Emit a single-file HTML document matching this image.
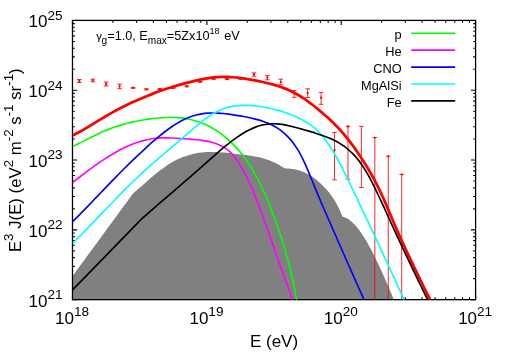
<!DOCTYPE html>
<html><head><meta charset="utf-8"><title>plot</title>
<style>
html,body{margin:0;padding:0;background:#fff;}
svg{display:block;will-change:transform;}
text{font-family:"Liberation Sans",sans-serif;fill:#000;}
</style></head><body>
<svg width="506" height="354" viewBox="0 0 506 354">
<g fill="none" stroke="#000" stroke-width="1.15">
<path d="M72.50 299.60V295.00M72.50 20.45V25.05M112.94 299.60V297.30M112.94 20.45V22.75M136.60 299.60V297.30M136.60 20.45V22.75M153.39 299.60V297.30M153.39 20.45V22.75M166.41 299.60V297.30M166.41 20.45V22.75M177.04 299.60V297.30M177.04 20.45V22.75M186.04 299.60V297.30M186.04 20.45V22.75M193.83 299.60V297.30M193.83 20.45V22.75M200.70 299.60V297.30M200.70 20.45V22.75M206.85 299.60V295.00M206.85 20.45V25.05M247.29 299.60V297.30M247.29 20.45V22.75M270.95 299.60V297.30M270.95 20.45V22.75M287.74 299.60V297.30M287.74 20.45V22.75M300.76 299.60V297.30M300.76 20.45V22.75M311.39 299.60V297.30M311.39 20.45V22.75M320.39 299.60V297.30M320.39 20.45V22.75M328.18 299.60V297.30M328.18 20.45V22.75M335.05 299.60V297.30M335.05 20.45V22.75M341.20 299.60V295.00M341.20 20.45V25.05M381.64 299.60V297.30M381.64 20.45V22.75M405.30 299.60V297.30M405.30 20.45V22.75M422.09 299.60V297.30M422.09 20.45V22.75M435.11 299.60V297.30M435.11 20.45V22.75M445.74 299.60V297.30M445.74 20.45V22.75M454.74 299.60V297.30M454.74 20.45V22.75M462.53 299.60V297.30M462.53 20.45V22.75M469.40 299.60V297.30M469.40 20.45V22.75M475.55 299.60V295.00M475.55 20.45V25.05M72.50 299.60H77.10M475.55 299.60H470.95M72.50 278.59H74.80M475.55 278.59H473.25M72.50 266.30H74.80M475.55 266.30H473.25M72.50 257.58H74.80M475.55 257.58H473.25M72.50 250.82H74.80M475.55 250.82H473.25M72.50 245.29H74.80M475.55 245.29H473.25M72.50 240.62H74.80M475.55 240.62H473.25M72.50 236.58H74.80M475.55 236.58H473.25M72.50 233.01H74.80M475.55 233.01H473.25M72.50 229.81H77.10M475.55 229.81H470.95M72.50 208.80H74.80M475.55 208.80H473.25M72.50 196.52H74.80M475.55 196.52H473.25M72.50 187.80H74.80M475.55 187.80H473.25M72.50 181.03H74.80M475.55 181.03H473.25M72.50 175.51H74.80M475.55 175.51H473.25M72.50 170.84H74.80M475.55 170.84H473.25M72.50 166.79H74.80M475.55 166.79H473.25M72.50 163.22H74.80M475.55 163.22H473.25M72.50 160.03H77.10M475.55 160.03H470.95M72.50 139.02H74.80M475.55 139.02H473.25M72.50 126.73H74.80M475.55 126.73H473.25M72.50 118.01H74.80M475.55 118.01H473.25M72.50 111.25H74.80M475.55 111.25H473.25M72.50 105.72H74.80M475.55 105.72H473.25M72.50 101.05H74.80M475.55 101.05H473.25M72.50 97.00H74.80M475.55 97.00H473.25M72.50 93.43H74.80M475.55 93.43H473.25M72.50 90.24H77.10M475.55 90.24H470.95M72.50 69.23H74.80M475.55 69.23H473.25M72.50 56.94H74.80M475.55 56.94H473.25M72.50 48.22H74.80M475.55 48.22H473.25M72.50 41.46H74.80M475.55 41.46H473.25M72.50 35.93H74.80M475.55 35.93H473.25M72.50 31.26H74.80M475.55 31.26H473.25M72.50 27.21H74.80M475.55 27.21H473.25M72.50 23.64H74.80M475.55 23.64H473.25M72.50 20.45H77.10M475.55 20.45H470.95"/>
<rect x="72.50" y="20.45" width="403.05" height="279.15"/>
</g>
<path d="M72.50 299.60 L72.50 276.30 C82.55 262.55 122.75 207.55 132.80 193.80 C133.90 192.83 137.19 189.91 139.38 187.97 C141.57 186.03 143.78 184.05 145.97 182.14 C148.16 180.23 150.34 178.32 152.50 176.51 C154.66 174.70 156.81 172.94 158.92 171.30 C161.03 169.66 163.12 168.10 165.17 166.68 C167.22 165.26 169.25 163.98 171.24 162.80 C173.23 161.62 175.18 160.57 177.11 159.62 C179.04 158.67 180.94 157.83 182.81 157.08 C184.69 156.33 186.54 155.69 188.36 155.13 C190.19 154.57 191.98 154.10 193.76 153.70 C195.54 153.30 197.30 152.99 199.04 152.74 C200.78 152.49 202.50 152.32 204.21 152.19 C205.92 152.06 207.61 151.99 209.29 151.96 C210.97 151.93 212.64 151.95 214.30 151.99 C215.96 152.03 217.61 152.13 219.26 152.23 C220.91 152.33 222.55 152.46 224.18 152.60 C225.81 152.74 227.44 152.91 229.07 153.08 C230.70 153.25 232.33 153.45 233.95 153.64 C235.57 153.83 237.19 154.03 238.81 154.22 C240.43 154.41 242.06 154.61 243.68 154.81 C245.30 155.01 246.92 155.21 248.53 155.43 C250.14 155.66 251.76 155.89 253.36 156.16 C254.96 156.43 256.56 156.72 258.14 157.06 C259.72 157.40 261.30 157.78 262.85 158.22 C264.41 158.66 265.94 159.15 267.47 159.70 C269.00 160.25 270.51 160.84 272.01 161.49 C273.51 162.14 275.00 162.83 276.48 163.57 C277.96 164.31 279.42 165.10 280.87 165.92 C282.32 166.74 284.48 168.07 285.20 168.50 C285.97 168.54 288.29 168.57 289.81 168.71 C291.33 168.85 292.83 169.05 294.31 169.33 C295.79 169.61 297.26 169.95 298.70 170.37 C300.14 170.79 301.57 171.28 302.97 171.84 C304.38 172.40 305.76 173.03 307.13 173.73 C308.50 174.43 309.84 175.22 311.17 176.06 C312.50 176.90 313.81 177.81 315.10 178.79 C316.39 179.77 317.67 180.81 318.93 181.92 C320.19 183.03 321.43 184.20 322.66 185.43 C323.89 186.66 325.10 187.94 326.29 189.29 C327.48 190.64 328.66 192.02 329.82 193.51 C330.98 195.00 332.12 196.54 333.23 198.21 C334.34 199.88 335.43 201.63 336.47 203.53 C337.52 205.43 338.53 207.44 339.50 209.62 C340.47 211.80 341.83 215.45 342.30 216.62 C343.04 216.89 345.32 217.58 346.76 218.33 C348.20 219.09 349.59 220.04 350.94 221.13 C352.29 222.22 353.60 223.48 354.87 224.84 C356.14 226.20 357.37 227.72 358.59 229.30 C359.81 230.88 361.00 232.59 362.17 234.34 C363.34 236.09 364.49 237.93 365.62 239.82 C366.75 241.71 367.87 243.66 368.98 245.66 C370.09 247.66 371.18 249.72 372.26 251.81 C373.34 253.90 374.41 256.04 375.47 258.21 C376.53 260.38 377.58 262.58 378.63 264.81 C379.68 267.04 380.71 269.29 381.74 271.56 C382.77 273.83 383.80 276.13 384.82 278.44 C385.84 280.75 386.86 283.09 387.87 285.44 C388.88 287.79 389.89 290.15 390.90 292.53 C391.90 294.91 393.40 298.50 393.90 299.70 L393.90 299.60 Z" fill="#808080"/>
<rect x="72.50" y="20.45" width="403.05" height="279.15" fill="none" stroke="#000" stroke-width="1.15"/>
<path d="M79.30 79.50V82.50M77.00 79.50H81.60M77.00 82.50H81.60M92.73 79.20V81.80M90.43 79.20H95.03M90.43 81.80H95.03M106.17 82.00V86.00M103.87 82.00H108.47M103.87 86.00H108.47M119.60 84.20V88.70M117.30 84.20H121.90M117.30 88.70H121.90M133.03 87.30V88.30M130.73 87.30H135.33M130.73 88.30H135.33M146.46 88.80V89.80M144.16 88.80H148.76M144.16 89.80H148.76M159.90 88.50V89.50M157.60 88.50H162.20M157.60 89.50H162.20M173.33 87.40V88.40M171.03 87.40H175.63M171.03 88.40H175.63M186.76 85.80V86.80M184.46 85.80H189.06M184.46 86.80H189.06M200.20 81.30V82.30M197.90 81.30H202.50M197.90 82.30H202.50M213.63 78.30V79.30M211.33 78.30H215.93M211.33 79.30H215.93M227.06 78.40V79.60M224.76 78.40H229.36M224.76 79.60H229.36M240.50 78.00V79.20M238.20 78.00H242.80M238.20 79.20H242.80M253.93 72.90V76.20M251.63 72.90H256.23M251.63 76.20H256.23M267.36 75.60V79.80M265.06 75.60H269.66M265.06 79.80H269.66M280.80 79.20V84.80M278.50 79.20H283.10M278.50 84.80H283.10M294.23 90.40V97.30M291.93 90.40H296.53M291.93 97.30H296.53M307.66 88.80V97.50M305.36 88.80H309.96M305.36 97.50H309.96M321.09 92.40V104.30M318.79 92.40H323.39M318.79 104.30H323.39M334.53 132.50V179.80M332.23 132.50H336.83M332.23 179.80H336.83M347.96 126.30V179.20M345.66 126.30H350.26M345.66 179.20H350.26M361.39 126.30V187.50M359.09 126.30H363.69M359.09 187.50H363.69M374.83 137.50V299.50M372.53 137.50H377.13M388.26 156.20V299.50M385.96 156.20H390.56M401.69 174.40V299.50M399.39 174.40H403.99" fill="none" stroke="#ff0000" stroke-width="0.85"/>
<g fill="#ff0000"><circle cx="79.30" cy="81.00" r="1.15"/><circle cx="92.73" cy="80.50" r="1.15"/><circle cx="106.17" cy="84.00" r="1.15"/><circle cx="119.60" cy="86.40" r="1.15"/><circle cx="133.03" cy="87.80" r="1.15"/><circle cx="146.46" cy="89.30" r="1.15"/><circle cx="159.90" cy="89.00" r="1.15"/><circle cx="173.33" cy="87.90" r="1.15"/><circle cx="186.76" cy="86.30" r="1.15"/><circle cx="200.20" cy="81.80" r="1.15"/><circle cx="213.63" cy="78.80" r="1.15"/><circle cx="227.06" cy="79.00" r="1.15"/><circle cx="240.50" cy="78.60" r="1.15"/><circle cx="253.93" cy="74.50" r="1.15"/><circle cx="267.36" cy="77.70" r="1.15"/><circle cx="280.80" cy="81.90" r="1.15"/><circle cx="294.23" cy="93.70" r="1.15"/><circle cx="307.66" cy="93.10" r="1.15"/><circle cx="321.09" cy="97.70" r="1.15"/><circle cx="334.53" cy="150.20" r="1.15"/><circle cx="347.96" cy="126.60" r="1.15"/><circle cx="374.83" cy="137.70" r="1.05"/><circle cx="388.26" cy="156.40" r="1.05"/><circle cx="401.69" cy="174.60" r="1.05"/></g>
<clipPath id="c"><rect x="72.5" y="19.4" width="403.1" height="280.7"/></clipPath>
<g clip-path="url(#c)">
<path d="M72.50 135.55 C73.63 134.97 76.99 133.30 79.26 132.05 C81.53 130.81 83.83 129.45 86.14 128.08 C88.45 126.72 90.78 125.28 93.10 123.86 C95.42 122.44 97.75 120.99 100.06 119.59 C102.37 118.19 104.68 116.81 106.98 115.48 C109.28 114.16 111.57 112.88 113.84 111.64 C116.11 110.40 118.37 109.22 120.62 108.06 C122.87 106.91 125.11 105.79 127.34 104.71 C129.57 103.63 131.79 102.59 134.00 101.58 C136.21 100.57 138.41 99.60 140.60 98.65 C142.79 97.70 144.98 96.79 147.16 95.90 C149.34 95.02 151.51 94.16 153.67 93.34 C155.83 92.52 157.98 91.72 160.13 90.96 C162.28 90.20 164.41 89.47 166.54 88.76 C168.67 88.06 170.79 87.38 172.91 86.73 C175.03 86.08 177.13 85.46 179.23 84.86 C181.33 84.26 183.42 83.70 185.51 83.15 C187.60 82.61 189.68 82.09 191.75 81.59 C193.82 81.09 195.89 80.62 197.95 80.17 C200.01 79.72 202.06 79.30 204.10 78.92 C206.14 78.54 208.18 78.20 210.20 77.91 C212.22 77.62 214.22 77.38 216.21 77.20 C218.20 77.02 220.18 76.90 222.13 76.84 C224.08 76.78 226.02 76.80 227.94 76.87 C229.86 76.94 231.76 77.08 233.66 77.25 C235.56 77.42 237.43 77.64 239.31 77.88 C241.19 78.12 243.06 78.41 244.92 78.70 C246.78 78.99 248.64 79.31 250.49 79.63 C252.34 79.95 254.20 80.28 256.04 80.64 C257.88 81.00 259.73 81.37 261.56 81.76 C263.39 82.16 265.23 82.57 267.05 83.01 C268.87 83.45 270.69 83.92 272.49 84.42 C274.30 84.92 276.09 85.46 277.88 86.04 C279.67 86.62 281.45 87.22 283.21 87.88 C284.97 88.54 286.72 89.23 288.46 89.99 C290.20 90.75 291.92 91.55 293.63 92.42 C295.34 93.29 297.03 94.22 298.71 95.21 C300.39 96.20 302.05 97.26 303.69 98.36 C305.33 99.46 306.96 100.62 308.58 101.81 C310.20 103.00 311.81 104.25 313.41 105.52 C315.01 106.79 316.60 108.10 318.19 109.42 C319.78 110.74 321.36 112.08 322.93 113.44 C324.50 114.80 326.08 116.18 327.64 117.59 C329.20 119.00 330.76 120.44 332.30 121.92 C333.84 123.40 335.38 124.92 336.90 126.49 C338.42 128.06 339.93 129.67 341.42 131.35 C342.91 133.03 344.39 134.77 345.85 136.55 C347.31 138.34 348.75 140.18 350.19 142.06 C351.62 143.94 353.05 145.89 354.46 147.86 C355.87 149.84 357.27 151.86 358.66 153.91 C360.05 155.96 361.43 158.05 362.80 160.18 C364.17 162.31 365.53 164.47 366.88 166.68 C368.23 168.89 369.56 171.15 370.88 173.46 C372.20 175.78 373.51 178.14 374.80 180.57 C376.09 183.00 377.37 185.49 378.62 188.05 C379.87 190.61 381.10 193.26 382.32 195.95 C383.54 198.64 384.74 201.40 385.94 204.17 C387.14 206.94 388.32 209.77 389.51 212.58 C390.70 215.39 391.88 218.23 393.07 221.03 C394.26 223.83 395.45 226.63 396.65 229.39 C397.85 232.15 399.06 234.87 400.28 237.57 C401.50 240.27 402.72 242.94 403.95 245.60 C405.18 248.26 406.41 250.88 407.65 253.51 C408.89 256.13 410.13 258.74 411.37 261.35 C412.61 263.96 413.86 266.56 415.10 269.16 C416.35 271.76 417.59 274.36 418.84 276.94 C420.09 279.52 421.34 282.10 422.60 284.65 C423.86 287.20 425.11 289.73 426.38 292.24 C427.65 294.75 429.57 298.46 430.21 299.70" fill="none" stroke="#ff0000" stroke-width="2.75" stroke-linejoin="round"/>
<path d="M72.50 146.50 C73.53 146.01 76.62 144.60 78.69 143.59 C80.76 142.58 82.85 141.51 84.94 140.46 C87.03 139.41 89.12 138.33 91.21 137.28 C93.29 136.23 95.38 135.17 97.45 134.18 C99.52 133.19 101.58 132.23 103.62 131.34 C105.66 130.45 107.69 129.63 109.70 128.86 C111.71 128.09 113.70 127.38 115.68 126.71 C117.66 126.04 119.63 125.44 121.59 124.87 C123.55 124.30 125.48 123.77 127.42 123.28 C129.35 122.79 131.28 122.34 133.20 121.91 C135.12 121.48 137.03 121.08 138.93 120.71 C140.83 120.34 142.73 120.01 144.62 119.70 C146.51 119.39 148.38 119.12 150.25 118.87 C152.12 118.62 153.99 118.41 155.84 118.22 C157.69 118.03 159.53 117.88 161.37 117.76 C163.21 117.64 165.03 117.54 166.85 117.49 C168.67 117.44 170.47 117.42 172.27 117.45 C174.07 117.48 175.86 117.55 177.63 117.67 C179.40 117.79 181.16 117.96 182.90 118.18 C184.64 118.40 186.38 118.68 188.09 119.01 C189.81 119.34 191.50 119.73 193.19 120.18 C194.88 120.63 196.55 121.13 198.20 121.69 C199.85 122.25 201.49 122.87 203.11 123.54 C204.73 124.22 206.34 124.95 207.93 125.74 C209.52 126.53 211.10 127.37 212.66 128.28 C214.22 129.19 215.77 130.16 217.30 131.18 C218.83 132.20 220.34 133.28 221.84 134.42 C223.34 135.56 224.82 136.75 226.29 138.00 C227.76 139.25 229.21 140.56 230.65 141.93 C232.09 143.30 233.51 144.71 234.92 146.19 C236.33 147.67 237.72 149.21 239.10 150.81 C240.47 152.41 241.83 154.07 243.17 155.80 C244.51 157.53 245.83 159.34 247.13 161.21 C248.43 163.09 249.72 165.03 250.98 167.05 C252.24 169.08 253.48 171.18 254.70 173.36 C255.92 175.54 257.12 177.80 258.30 180.11 C259.48 182.43 260.65 184.81 261.80 187.25 C262.95 189.69 264.08 192.20 265.20 194.75 C266.32 197.30 267.43 199.91 268.52 202.56 C269.61 205.21 270.69 207.90 271.76 210.64 C272.83 213.38 273.89 216.16 274.94 219.00 C275.99 221.84 277.02 224.72 278.03 227.67 C279.04 230.61 280.04 233.61 281.02 236.67 C282.00 239.73 282.97 242.85 283.92 246.04 C284.87 249.23 285.81 252.48 286.72 255.81 C287.63 259.14 288.53 262.54 289.40 266.02 C290.27 269.50 291.12 273.05 291.94 276.70 C292.76 280.35 293.57 284.08 294.35 287.91 C295.13 291.74 296.23 297.74 296.60 299.70" fill="none" stroke="#00ff00" stroke-width="1.65" stroke-linejoin="round"/>
<path d="M72.50 182.65 C73.59 181.79 76.85 179.19 79.01 177.51 C81.17 175.83 83.34 174.17 85.48 172.55 C87.62 170.93 89.76 169.35 91.88 167.81 C94.00 166.27 96.11 164.78 98.21 163.33 C100.31 161.88 102.40 160.48 104.47 159.13 C106.54 157.78 108.61 156.48 110.65 155.24 C112.69 154.00 114.72 152.82 116.73 151.70 C118.74 150.58 120.74 149.52 122.72 148.53 C124.70 147.54 126.65 146.62 128.59 145.77 C130.53 144.92 132.45 144.14 134.35 143.44 C136.25 142.74 138.13 142.11 139.99 141.55 C141.85 140.99 143.70 140.51 145.52 140.08 C147.34 139.66 149.15 139.30 150.94 139.00 C152.73 138.70 154.51 138.47 156.27 138.29 C158.03 138.11 159.77 137.99 161.50 137.91 C163.23 137.83 164.95 137.81 166.66 137.82 C168.37 137.83 170.07 137.89 171.76 137.96 C173.45 138.03 175.14 138.13 176.82 138.24 C178.50 138.35 180.18 138.48 181.86 138.60 C183.54 138.72 185.22 138.84 186.90 138.96 C188.58 139.08 190.25 139.19 191.93 139.32 C193.61 139.45 195.28 139.58 196.95 139.74 C198.62 139.91 200.29 140.08 201.94 140.31 C203.59 140.54 205.23 140.79 206.86 141.11 C208.49 141.43 210.10 141.78 211.70 142.21 C213.29 142.64 214.88 143.12 216.43 143.71 C217.99 144.30 219.53 144.95 221.03 145.72 C222.53 146.49 224.02 147.34 225.46 148.33 C226.91 149.32 228.32 150.42 229.70 151.67 C231.08 152.92 232.42 154.31 233.72 155.83 C235.02 157.35 236.28 159.02 237.52 160.79 C238.76 162.56 239.96 164.47 241.14 166.46 C242.32 168.45 243.47 170.55 244.60 172.72 C245.73 174.89 246.83 177.16 247.92 179.48 C249.01 181.80 250.08 184.19 251.14 186.62 C252.20 189.05 253.25 191.55 254.28 194.08 C255.31 196.61 256.33 199.19 257.34 201.80 C258.35 204.41 259.35 207.06 260.35 209.73 C261.35 212.40 262.33 215.10 263.32 217.82 C264.31 220.53 265.28 223.28 266.26 226.02 C267.24 228.77 268.21 231.53 269.18 234.29 C270.15 237.05 271.12 239.82 272.09 242.58 C273.06 245.34 274.03 248.10 275.00 250.85 C275.97 253.60 276.95 256.36 277.93 259.09 C278.91 261.82 279.89 264.53 280.88 267.24 C281.87 269.95 282.86 272.64 283.85 275.34 C284.84 278.04 285.83 280.72 286.82 283.42 C287.81 286.12 288.80 288.82 289.78 291.53 C290.76 294.24 292.23 298.34 292.72 299.70" fill="none" stroke="#ff00ff" stroke-width="1.65" stroke-linejoin="round"/>
<path d="M72.50 221.69 C73.70 220.50 77.29 216.98 79.71 214.55 C82.13 212.12 84.56 209.61 87.00 207.09 C89.44 204.57 91.89 202.00 94.34 199.44 C96.79 196.88 99.24 194.29 101.69 191.73 C104.14 189.17 106.59 186.60 109.03 184.08 C111.47 181.56 113.91 179.06 116.33 176.59 C118.75 174.12 121.17 171.69 123.58 169.29 C125.99 166.89 128.39 164.53 130.77 162.21 C133.16 159.89 135.53 157.60 137.89 155.36 C140.25 153.12 142.61 150.92 144.95 148.77 C147.29 146.62 149.62 144.51 151.93 142.48 C154.24 140.45 156.52 138.47 158.79 136.59 C161.06 134.72 163.31 132.91 165.52 131.23 C167.74 129.55 169.93 127.95 172.08 126.49 C174.24 125.03 176.36 123.69 178.45 122.49 C180.53 121.29 182.57 120.24 184.59 119.30 C186.61 118.36 188.59 117.55 190.54 116.84 C192.49 116.13 194.41 115.55 196.31 115.05 C198.21 114.55 200.07 114.16 201.92 113.85 C203.77 113.54 205.58 113.33 207.39 113.18 C209.19 113.03 210.98 112.97 212.75 112.96 C214.52 112.94 216.26 113.00 218.00 113.09 C219.74 113.18 221.46 113.34 223.18 113.51 C224.90 113.68 226.61 113.89 228.31 114.11 C230.01 114.33 231.71 114.57 233.41 114.82 C235.11 115.07 236.80 115.32 238.49 115.60 C240.18 115.88 241.87 116.16 243.55 116.47 C245.23 116.78 246.91 117.10 248.58 117.45 C250.25 117.80 251.91 118.18 253.56 118.59 C255.21 119.00 256.86 119.43 258.50 119.90 C260.14 120.37 261.77 120.87 263.38 121.43 C264.99 121.99 266.60 122.59 268.18 123.26 C269.76 123.93 271.33 124.65 272.88 125.46 C274.43 126.27 275.96 127.15 277.46 128.12 C278.96 129.09 280.44 130.14 281.90 131.29 C283.35 132.44 284.79 133.69 286.19 135.04 C287.59 136.39 288.97 137.84 290.31 139.41 C291.65 140.98 292.97 142.65 294.25 144.44 C295.53 146.23 296.79 148.13 298.01 150.16 C299.23 152.19 300.42 154.35 301.58 156.60 C302.74 158.85 303.86 161.24 304.97 163.67 C306.08 166.10 307.17 168.64 308.25 171.19 C309.33 173.74 310.39 176.36 311.46 178.96 C312.52 181.56 313.57 184.22 314.64 186.82 C315.70 189.42 316.77 192.02 317.85 194.59 C318.93 197.16 320.02 199.70 321.10 202.23 C322.19 204.76 323.27 207.28 324.36 209.79 C325.45 212.30 326.54 214.79 327.64 217.29 C328.74 219.79 329.84 222.28 330.93 224.77 C332.02 227.27 333.12 229.76 334.21 232.26 C335.30 234.76 336.40 237.26 337.49 239.76 C338.58 242.26 339.67 244.76 340.77 247.26 C341.87 249.76 342.96 252.25 344.06 254.75 C345.16 257.25 346.25 259.74 347.35 262.23 C348.45 264.72 349.54 267.20 350.64 269.68 C351.74 272.16 352.84 274.63 353.94 277.11 C355.04 279.59 356.14 282.06 357.24 284.53 C358.34 287.00 359.45 289.47 360.55 291.94 C361.65 294.41 363.30 298.12 363.85 299.35" fill="none" stroke="#0000ff" stroke-width="1.65" stroke-linejoin="round"/>
<path d="M72.50 243.45 C73.84 242.12 77.83 238.18 80.51 235.47 C83.19 232.76 85.89 229.97 88.60 227.17 C91.31 224.37 94.03 221.53 96.75 218.69 C99.47 215.85 102.19 212.99 104.90 210.16 C107.61 207.33 110.33 204.50 113.03 201.71 C115.73 198.92 118.44 196.15 121.12 193.44 C123.81 190.73 126.48 188.05 129.14 185.43 C131.80 182.81 134.44 180.23 137.07 177.73 C139.70 175.23 142.31 172.78 144.90 170.41 C147.49 168.04 150.06 165.75 152.62 163.50 C155.18 161.25 157.72 159.08 160.26 156.90 C162.80 154.72 165.33 152.60 167.86 150.45 C170.39 148.30 172.91 146.19 175.45 144.02 C177.99 141.85 180.53 139.65 183.08 137.44 C185.63 135.23 188.20 132.97 190.74 130.79 C193.28 128.61 195.82 126.42 198.32 124.39 C200.82 122.36 203.31 120.36 205.74 118.59 C208.17 116.82 210.58 115.16 212.91 113.76 C215.24 112.36 217.52 111.19 219.74 110.19 C221.96 109.19 224.12 108.43 226.25 107.79 C228.38 107.15 230.46 106.71 232.51 106.35 C234.56 105.99 236.57 105.79 238.57 105.63 C240.57 105.47 242.54 105.42 244.50 105.41 C246.46 105.39 248.40 105.45 250.33 105.54 C252.26 105.64 254.18 105.79 256.09 105.98 C257.99 106.17 259.88 106.42 261.76 106.71 C263.64 107.00 265.50 107.33 267.36 107.70 C269.22 108.07 271.06 108.49 272.90 108.94 C274.74 109.39 276.56 109.88 278.38 110.40 C280.20 110.93 282.00 111.49 283.80 112.09 C285.60 112.69 287.38 113.32 289.16 113.99 C290.94 114.66 292.70 115.35 294.46 116.10 C296.22 116.84 297.97 117.61 299.70 118.46 C301.43 119.30 303.15 120.19 304.84 121.17 C306.53 122.16 308.22 123.21 309.86 124.37 C311.50 125.53 313.12 126.78 314.71 128.16 C316.29 129.54 317.85 131.05 319.37 132.67 C320.89 134.29 322.38 136.05 323.84 137.89 C325.30 139.73 326.74 141.69 328.15 143.73 C329.56 145.77 330.94 147.91 332.31 150.12 C333.68 152.33 335.01 154.63 336.34 156.98 C337.67 159.33 338.97 161.76 340.27 164.22 C341.57 166.68 342.85 169.20 344.12 171.75 C345.39 174.30 346.66 176.89 347.92 179.49 C349.18 182.09 350.43 184.72 351.68 187.35 C352.93 189.98 354.18 192.62 355.43 195.26 C356.68 197.89 357.93 200.53 359.18 203.16 C360.43 205.79 361.69 208.43 362.94 211.07 C364.19 213.71 365.43 216.35 366.68 218.99 C367.93 221.63 369.18 224.28 370.43 226.92 C371.68 229.56 372.92 232.20 374.17 234.85 C375.42 237.50 376.67 240.15 377.91 242.81 C379.16 245.47 380.40 248.12 381.64 250.79 C382.88 253.45 384.13 256.12 385.37 258.80 C386.61 261.48 387.84 264.16 389.08 266.85 C390.31 269.54 391.55 272.24 392.78 274.94 C394.01 277.64 395.25 280.35 396.48 283.06 C397.71 285.77 398.94 288.49 400.17 291.20 C401.40 293.91 403.24 297.99 403.85 299.35" fill="none" stroke="#00ffff" stroke-width="1.65" stroke-linejoin="round"/>
<path d="M72.50 289.97 C83.25 278.93 125.28 235.70 137.00 223.70 C148.72 211.70 140.69 219.96 142.80 217.99 C144.91 216.02 147.37 213.89 149.64 211.89 C151.91 209.88 154.16 207.92 156.42 205.96 C158.68 204.00 160.93 202.07 163.18 200.14 C165.43 198.21 167.68 196.29 169.93 194.36 C172.18 192.43 174.43 190.50 176.68 188.56 C178.93 186.62 181.19 184.66 183.45 182.70 C185.71 180.74 187.97 178.76 190.23 176.78 C192.49 174.80 194.76 172.81 197.03 170.82 C199.30 168.83 201.56 166.84 203.83 164.85 C206.10 162.86 208.37 160.86 210.63 158.87 C212.89 156.88 215.17 154.88 217.42 152.94 C219.67 151.00 221.92 149.06 224.15 147.22 C226.38 145.38 228.59 143.57 230.78 141.88 C232.97 140.19 235.13 138.56 237.26 137.07 C239.39 135.58 241.50 134.20 243.56 132.96 C245.62 131.72 247.66 130.62 249.65 129.65 C251.65 128.68 253.60 127.84 255.53 127.12 C257.46 126.40 259.35 125.81 261.21 125.32 C263.07 124.83 264.90 124.46 266.70 124.20 C268.50 123.94 270.28 123.80 272.03 123.74 C273.78 123.68 275.50 123.74 277.20 123.85 C278.90 123.96 280.57 124.17 282.24 124.42 C283.91 124.67 285.55 125.00 287.19 125.35 C288.83 125.70 290.45 126.10 292.08 126.50 C293.70 126.90 295.32 127.34 296.94 127.77 C298.56 128.20 300.17 128.64 301.78 129.09 C303.39 129.54 305.00 130.00 306.61 130.47 C308.22 130.94 309.83 131.42 311.43 131.91 C313.03 132.40 314.63 132.89 316.22 133.41 C317.81 133.93 319.40 134.45 320.99 135.00 C322.58 135.55 324.17 136.10 325.74 136.70 C327.31 137.30 328.88 137.91 330.43 138.59 C331.98 139.27 333.53 139.97 335.05 140.75 C336.57 141.53 338.09 142.35 339.58 143.25 C341.07 144.15 342.54 145.12 343.99 146.17 C345.44 147.22 346.87 148.35 348.28 149.56 C349.69 150.77 351.07 152.05 352.44 153.43 C353.81 154.81 355.15 156.27 356.47 157.82 C357.79 159.37 359.08 161.01 360.35 162.74 C361.62 164.47 362.86 166.30 364.08 168.21 C365.30 170.12 366.49 172.14 367.67 174.20 C368.85 176.26 370.01 178.41 371.16 180.59 C372.31 182.77 373.44 185.03 374.56 187.30 C375.68 189.57 376.79 191.90 377.90 194.23 C379.01 196.56 380.11 198.93 381.21 201.30 C382.31 203.67 383.40 206.06 384.49 208.45 C385.58 210.84 386.67 213.24 387.76 215.64 C388.85 218.04 389.94 220.44 391.03 222.84 C392.12 225.24 393.21 227.64 394.30 230.02 C395.39 232.41 396.49 234.78 397.59 237.15 C398.69 239.52 399.80 241.87 400.90 244.22 C402.00 246.57 403.10 248.91 404.21 251.25 C405.32 253.59 406.43 255.91 407.54 258.24 C408.65 260.57 409.76 262.89 410.87 265.21 C411.98 267.53 413.09 269.86 414.20 272.17 C415.31 274.49 416.43 276.79 417.54 279.10 C418.66 281.41 419.77 283.71 420.89 286.01 C422.01 288.31 423.13 290.60 424.25 292.88 C425.37 295.16 427.06 298.56 427.62 299.70" fill="none" stroke="#000000" stroke-width="1.65" stroke-linejoin="round"/>
</g>
<path d="M411.20 33.20H455.20" stroke="#00ff00" stroke-width="1.65" fill="none"/><text x="401.60" y="39.00" font-size="12.8" text-anchor="end">p</text>
<path d="M411.20 50.13H455.20" stroke="#ff00ff" stroke-width="1.65" fill="none"/><text x="401.60" y="55.93" font-size="12.8" text-anchor="end">He</text>
<path d="M411.20 67.06H455.20" stroke="#0000ff" stroke-width="1.65" fill="none"/><text x="401.60" y="72.86" font-size="12.8" text-anchor="end">CNO</text>
<path d="M411.20 83.99H455.20" stroke="#00ffff" stroke-width="1.65" fill="none"/><text x="401.60" y="89.79" font-size="12.8" text-anchor="end">MgAlSi</text>
<path d="M411.20 100.92H455.20" stroke="#000000" stroke-width="1.65" fill="none"/><text x="401.60" y="106.72" font-size="12.8" text-anchor="end">Fe</text>
<text x="72.10" y="323.50" font-size="17" text-anchor="middle">10<tspan dy="-7.60" font-size="13.6">18</tspan></text>
<text x="206.45" y="323.50" font-size="17" text-anchor="middle">10<tspan dy="-7.60" font-size="13.6">19</tspan></text>
<text x="340.80" y="323.50" font-size="17" text-anchor="middle">10<tspan dy="-7.60" font-size="13.6">20</tspan></text>
<text x="475.15" y="323.50" font-size="17" text-anchor="middle">10<tspan dy="-7.60" font-size="13.6">21</tspan></text>
<text x="62.50" y="306.60" font-size="17" text-anchor="end">10<tspan dy="-7.60" font-size="13.6">21</tspan></text>
<text x="62.50" y="236.81" font-size="17" text-anchor="end">10<tspan dy="-7.60" font-size="13.6">22</tspan></text>
<text x="62.50" y="167.03" font-size="17" text-anchor="end">10<tspan dy="-7.60" font-size="13.6">23</tspan></text>
<text x="62.50" y="97.24" font-size="17" text-anchor="end">10<tspan dy="-7.60" font-size="13.6">24</tspan></text>
<text x="62.50" y="27.45" font-size="17" text-anchor="end">10<tspan dy="-7.60" font-size="13.6">25</tspan></text>
<text x="274.00" y="346.50" font-size="17" text-anchor="middle">E (eV)</text>
<text transform="translate(21.20 160.20) rotate(-90) scale(0.9860)" font-size="17" text-anchor="middle">E<tspan dy="-8.30" font-size="13.6">3</tspan><tspan dy="8.30" font-size="17"> J(E) (eV</tspan><tspan dy="-8.30" font-size="13.6">2</tspan><tspan dy="8.30" font-size="17"> m</tspan><tspan dy="-8.30" font-size="13.6">-2</tspan><tspan dy="8.30" font-size="17"> s</tspan><tspan dy="-8.30" font-size="13.6">-1</tspan><tspan dy="8.30" font-size="17"> sr</tspan><tspan dy="-8.30" font-size="13.6">-1</tspan><tspan dy="8.30" font-size="17">)</tspan></text>
<text x="96.30" y="40.10" font-size="12.7"><tspan font-size="11.4">γ</tspan><tspan dx="-0.40" dy="4.30" font-size="10.1">g</tspan><tspan dy="-4.30" font-size="12.7">=1.0, E</tspan><tspan dx="0.00" dy="4.30" font-size="10.1">max</tspan><tspan dy="-4.30" font-size="12.7">=5Zx10</tspan><tspan dy="-6.00" font-size="9.1">18</tspan><tspan dx="1.0" dy="6.00" font-size="12.7"> eV</tspan></text>
</svg>
</body></html>
